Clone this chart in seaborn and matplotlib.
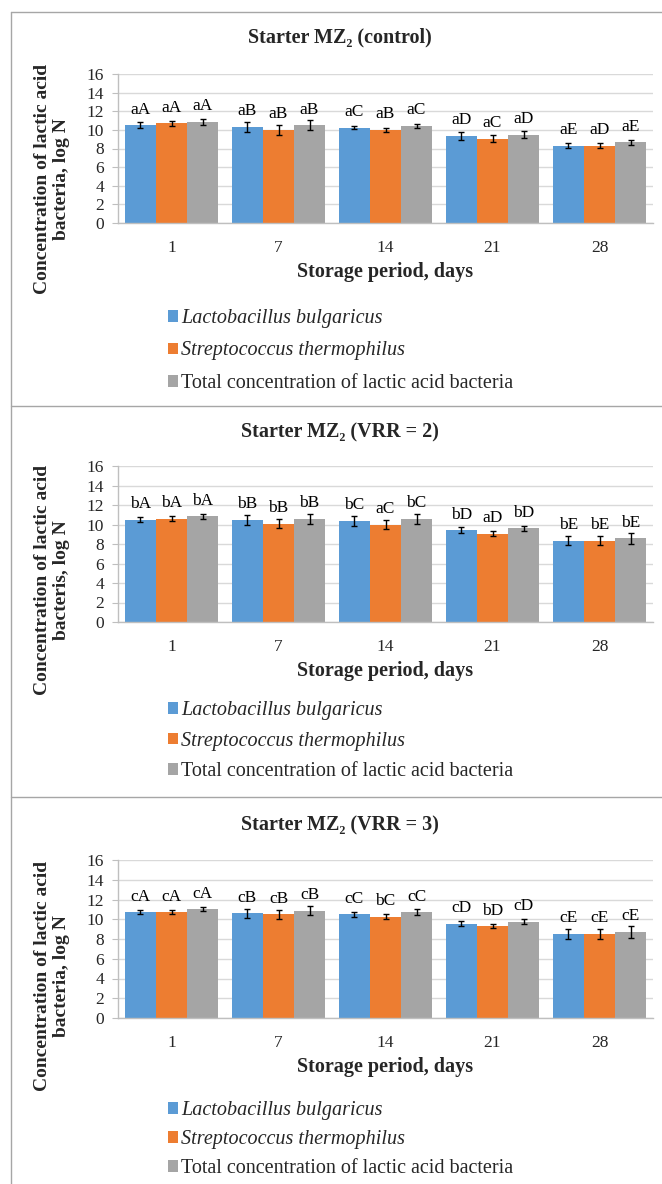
import numpy as np
import pandas as pd
import seaborn as sns
import matplotlib.pyplot as plt
from matplotlib.lines import Line2D

# Данные: дни хранения и группы бактерий
days = ['1', '7', '14', '21', '28']
species = ['Lactobacillus bulgaricus', 'Streptococcus thermophilus',
           'Total concentration of lactic acid bacteria']

# Starter MZ2 (control)
ctrl_lb = [10.5, 10.3, 10.25, 9.35, 8.3]
ctrl_st = [10.7, 10.0, 10.0, 9.05, 8.3]
ctrl_tot = [10.85, 10.5, 10.45, 9.5, 8.65]
ctrl_lb_err = [0.35, 0.5, 0.2, 0.4, 0.25]
ctrl_st_err = [0.3, 0.5, 0.25, 0.35, 0.25]
ctrl_tot_err = [0.35, 0.55, 0.2, 0.4, 0.3]
ctrl_lb_lbl = ['aA', 'aB', 'aC', 'aD', 'aE']
ctrl_st_lbl = ['aA', 'aB', 'aB', 'aC', 'aD']
ctrl_tot_lbl = ['aA', 'aB', 'aC', 'aD', 'aE']

# Starter MZ2 (VRR = 2)
vrr2_lb = [10.5, 10.45, 10.35, 9.4, 8.35]
vrr2_st = [10.6, 10.1, 10.0, 9.05, 8.35]
vrr2_tot = [10.85, 10.6, 10.55, 9.6, 8.6]
vrr2_lb_err = [0.25, 0.5, 0.55, 0.3, 0.5]
vrr2_st_err = [0.25, 0.5, 0.5, 0.25, 0.5]
vrr2_tot_err = [0.25, 0.5, 0.5, 0.25, 0.55]
vrr2_lb_lbl = ['bA', 'bB', 'bC', 'bD', 'bE']
vrr2_st_lbl = ['bA', 'bB', 'aC', 'aD', 'bE']
vrr2_tot_lbl = ['bA', 'bB', 'bC', 'bD', 'bE']

# Starter MZ2 (VRR = 3)
vrr3_lb = [10.7, 10.6, 10.5, 9.55, 8.5]
vrr3_st = [10.7, 10.5, 10.25, 9.3, 8.5]
vrr3_tot = [11.0, 10.85, 10.7, 9.75, 8.75]
vrr3_lb_err = [0.2, 0.45, 0.25, 0.25, 0.5]
vrr3_st_err = [0.2, 0.45, 0.25, 0.2, 0.5]
vrr3_tot_err = [0.2, 0.45, 0.3, 0.25, 0.6]
vrr3_lb_lbl = ['cA', 'cB', 'cC', 'cD', 'cE']
vrr3_st_lbl = ['cA', 'cB', 'bC', 'bD', 'cE']
vrr3_tot_lbl = ['cA', 'cB', 'cC', 'cD', 'cE']

colors = ['#5B9BD5', '#ED7D31', '#A5A5A5']

sns.set_style('white')
plt.rcParams['font.family'] = ['Liberation Serif', 'DejaVu Serif']

W, H = 662, 1184
fig = plt.figure(figsize=(W / 100, H / 100), dpi=100)


def fx(px):
    return px / W


def fy(py):
    return 1 - py / H


def draw_panel(title, ylabel, vals, errs, lbls, top, bottom, title_y, xlab_y, ylab_y,
               leg_y, leg_space):
    df = pd.DataFrame({
        'day': days * 3,
        'species': [s for s in species for _ in days],
        'value': vals[0] + vals[1] + vals[2],
    })
    ax = fig.add_axes([fx(118), fy(bottom), fx(653) - fx(118), (bottom - top) / H])
    sns.barplot(data=df, x='day', y='value', hue='species', order=days, hue_order=species,
                palette=colors, errorbar=None, width=0.87, gap=0, saturation=1,
                edgecolor='none', ax=ax)

    # Планки погрешностей и буквенные метки над столбцами
    for cont, err, lab in zip(ax.containers, errs, lbls):
        xs = [p.get_x() + p.get_width() / 2 for p in cont.patches]
        hs = [p.get_height() for p in cont.patches]
        ax.errorbar(xs, hs, yerr=err, fmt='none', ecolor='black', elinewidth=1,
                    capsize=2.5, capthick=1, zorder=5)
        ax.bar_label(cont, labels=lab, padding=5.5, fontsize=12.5, color='black')

    ax.set_ylim(0, 16)
    ax.set_yticks(np.arange(0, 17, 2))
    ax.set_xlim(-0.5, 4.5)
    ax.yaxis.grid(True, color='#D9D9D9', linewidth=1)
    ax.set_axisbelow(True)
    for s in ['top', 'right']:
        ax.spines[s].set_visible(False)
    for s in ['left', 'bottom']:
        ax.spines[s].set_color('#BFBFBF')
        ax.spines[s].set_linewidth(1)
    ax.tick_params(axis='y', which='both', left=True, length=4, color='#BFBFBF',
                   labelsize=12.5, labelcolor='#262626', pad=6)
    ax.tick_params(axis='x', length=0, labelsize=12.5, labelcolor='#262626', pad=12)
    ax.set_xlabel('')
    ax.set_ylabel('')

    handles, labels = ax.get_legend_handles_labels()
    ax.legend_.remove()
    leg = ax.legend(handles, labels, loc='upper left',
                    bbox_to_anchor=(fx(168), fy(leg_y)), bbox_transform=fig.transFigure,
                    frameon=False, fontsize=14.5, handlelength=0.5, handleheight=0.5,
                    handletextpad=0.15, labelspacing=leg_space, borderpad=0,
                    borderaxespad=0)
    leg.get_texts()[0].set_style('italic')
    leg.get_texts()[1].set_style('italic')

    fig.text(fx(340), fy(title_y), title, ha='center', va='center',
             fontsize=14.5, fontweight='bold')
    fig.text(fx(385.5), fy(xlab_y), 'Storage period, days', ha='center', va='center',
             fontsize=14.5, fontweight='bold')
    fig.text(fx(52), fy(ylab_y), ylabel, ha='center', va='center', rotation=90,
             fontsize=14, fontweight='bold', linespacing=1.15, multialignment='center')
    return ax


draw_panel('Starter MZ\u2082 (control)', 'Concentration of lactic acid\nbacteria, log N',
           [ctrl_lb, ctrl_st, ctrl_tot], [ctrl_lb_err, ctrl_st_err, ctrl_tot_err],
           [ctrl_lb_lbl, ctrl_st_lbl, ctrl_tot_lbl],
           top=74, bottom=223, title_y=37, xlab_y=272, ylab_y=179, leg_y=309,
           leg_space=0.67)
draw_panel('Starter MZ\u2082 (VRR = 2)', 'Concentration of lactic acid\nbacteris, log N',
           [vrr2_lb, vrr2_st, vrr2_tot], [vrr2_lb_err, vrr2_st_err, vrr2_tot_err],
           [vrr2_lb_lbl, vrr2_st_lbl, vrr2_tot_lbl],
           top=466, bottom=622, title_y=432, xlab_y=671, ylab_y=580, leg_y=701,
           leg_space=0.58)
draw_panel('Starter MZ\u2082 (VRR = 3)', 'Concentration of lactic acid\nbacteria, log N',
           [vrr3_lb, vrr3_st, vrr3_tot], [vrr3_lb_err, vrr3_st_err, vrr3_tot_err],
           [vrr3_lb_lbl, vrr3_st_lbl, vrr3_tot_lbl],
           top=860, bottom=1018, title_y=825, xlab_y=1067, ylab_y=976, leg_y=1101,
           leg_space=0.5)

# Рамки панелей
border = '#A6A6A6'
for yy in [12, 406, 797]:
    fig.add_artist(Line2D([fx(11), 1.0], [fy(yy), fy(yy)], color=border, lw=1,
                          transform=fig.transFigure))
fig.add_artist(Line2D([fx(11), fx(11)], [fy(12), 0.0], color=border, lw=1,
                      transform=fig.transFigure))

fig.savefig('out.png', dpi=100)
